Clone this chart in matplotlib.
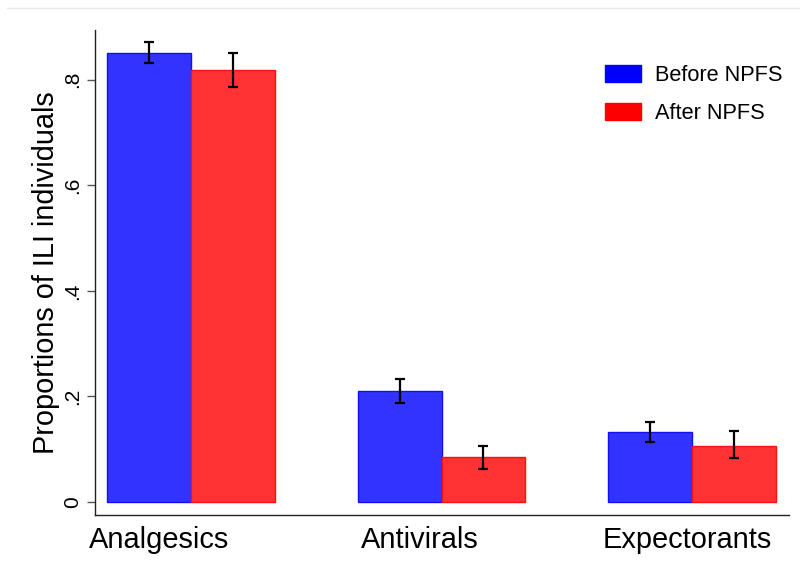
import numpy as np
import matplotlib.pyplot as plt
from matplotlib.patches import Patch
from matplotlib.lines import Line2D

plt.rcParams['font.family'] = ['Liberation Sans', 'DejaVu Sans']

# data
categories = ['Analgesics', 'Antivirals', 'Expectorants']
series = ['Before NPFS', 'After NPFS']
before_mean = [0.850, 0.210, 0.133]
before_lo = [0.831, 0.187, 0.114]
before_hi = [0.871, 0.234, 0.152]
after_mean = [0.819, 0.085, 0.107]
after_lo = [0.787, 0.063, 0.083]
after_hi = [0.850, 0.107, 0.134]
yticks = [0, 0.2, 0.4, 0.6, 0.8]
ytick_labels = ['0', '.2', '.4', '.6', '.8']

fig = plt.figure(figsize=(8, 5.84), dpi=100)
ax = fig.add_axes([0.11875, 0.118, 0.867, 0.8306])

x = np.arange(len(categories))
w = 0.3347

def draw(pos, mean, lo, hi, face, edge):
    mean = np.array(mean)
    err = [mean - np.array(lo), np.array(hi) - mean]
    ax.bar(pos, mean, w, color=face, edgecolor=edge, linewidth=1)
    ax.errorbar(pos, mean, yerr=err, fmt='none', ecolor='black',
                elinewidth=1.6, capsize=3.6, capthick=1.6)

draw(x - w / 2, before_mean, before_lo, before_hi, '#3333ff', '#1010ff')
draw(x + w / 2, after_mean, after_lo, after_hi, '#ff3333', '#ff1010')

ax.set_xlim(-0.383, 2.385)
ax.set_ylim(-0.0246, 0.894)

# category labels sit a bit left of the group centres in the original
label_x = x + np.array([-0.126, -0.086, -0.018])
ax.set_xticks(label_x)
ax.set_xticklabels(categories, fontsize=20.9)
ax.tick_params(axis='x', length=0, pad=8)

ax.set_yticks(yticks)
ax.set_yticklabels(ytick_labels, fontsize=15, rotation=90, va='center')
ax.tick_params(axis='y', length=6, width=1, color='#555555', pad=3.5)
ax.set_ylabel('Proportions of ILI individuals', fontsize=20.8, labelpad=2)

for s in ['top', 'right']:
    ax.spines[s].set_visible(False)
for s in ['left', 'bottom']:
    ax.spines[s].set_color('#222222')
    ax.spines[s].set_linewidth(1)

handles = [Patch(facecolor='#0000ff', edgecolor='#0000ff'),
           Patch(facecolor='#ff0000', edgecolor='#ff0000')]
ax.legend(handles, series, loc='upper left', bbox_to_anchor=(605 / 800, 1 - 64.5 / 584),
          bbox_transform=fig.transFigure, frameon=False, fontsize=15.7,
          handlelength=1.65, handleheight=0.83, handletextpad=0.65,
          labelspacing=0.8, borderpad=0, borderaxespad=0)

# faint border line at the very top of the graph region
fig.add_artist(Line2D([7 / 800, 1], [1 - 8 / 584, 1 - 8 / 584], color='#e6e9ee',
                      linewidth=1, transform=fig.transFigure))

fig.savefig('out.png', dpi=100)
